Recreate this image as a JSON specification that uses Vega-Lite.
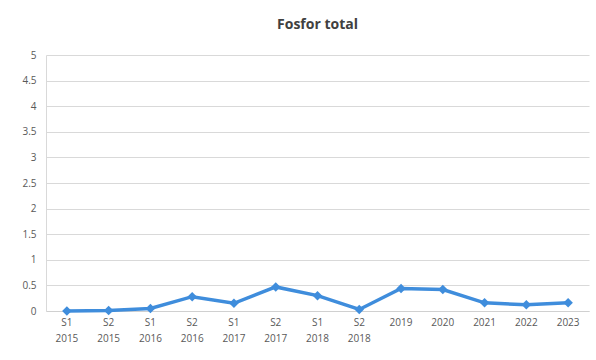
{
  "$schema": "https://vega.github.io/schema/vega-lite/v6.json",
  "autosize": {"type": "none"},
  "width": 543,
  "height": 256,
  "padding": {"left": 46, "top": 55, "right": 7, "bottom": 49},
  "background": "white",
  "title": {
    "text": "Fosfor total",
    "font": "Open Sans",
    "fontSize": 14,
    "fontWeight": "bold",
    "color": "#404040",
    "anchor": "middle",
    "offset": 18
  },
  "config": {"view": {"stroke": null}},
  "data": {
    "values": [
      {"period": "S1 2015", "value": 0.0},
      {"period": "S2 2015", "value": 0.01},
      {"period": "S1 2016", "value": 0.05},
      {"period": "S2 2016", "value": 0.28},
      {"period": "S1 2017", "value": 0.15},
      {"period": "S2 2017", "value": 0.47},
      {"period": "S1 2018", "value": 0.3},
      {"period": "S2 2018", "value": 0.03},
      {"period": "2019", "value": 0.44},
      {"period": "2020", "value": 0.42},
      {"period": "2021", "value": 0.16},
      {"period": "2022", "value": 0.12},
      {"period": "2023", "value": 0.16}
    ]
  },
  "encoding": {
    "x": {
      "field": "period",
      "type": "nominal",
      "sort": null,
      "scale": {"type": "band", "paddingInner": 0, "paddingOuter": 0},
      "axis": {
        "title": null,
        "labelAngle": 0,
        "labelExpr": "split(datum.label, ' ')",
        "labelFont": "Open Sans",
        "labelFontSize": 10,
        "labelColor": "#595959",
        "labelLineHeight": 16,
        "labelPadding": 6,
        "ticks": false,
        "domainColor": "#d0d0d0",
        "grid": false
      }
    },
    "y": {
      "field": "value",
      "type": "quantitative",
      "scale": {"domain": [0, 5]},
      "axis": {
        "title": null,
        "values": [0, 0.5, 1, 1.5, 2, 2.5, 3, 3.5, 4, 4.5, 5],
        "format": "~g",
        "labelFont": "Open Sans",
        "labelFontSize": 10,
        "labelColor": "#595959",
        "labelPadding": 10,
        "ticks": false,
        "domain": true,
        "domainColor": "#d9d9d9",
        "gridColor": "#d9d9d9",
        "gridWidth": 1
      }
    }
  },
  "layer": [
    {"mark": {"type": "line", "color": "#3f8ddc", "strokeWidth": 3.5}},
    {"mark": {"type": "point", "shape": "diamond", "filled": true, "color": "#3f8ddc", "size": 90, "opacity": 1}}
  ]
}
